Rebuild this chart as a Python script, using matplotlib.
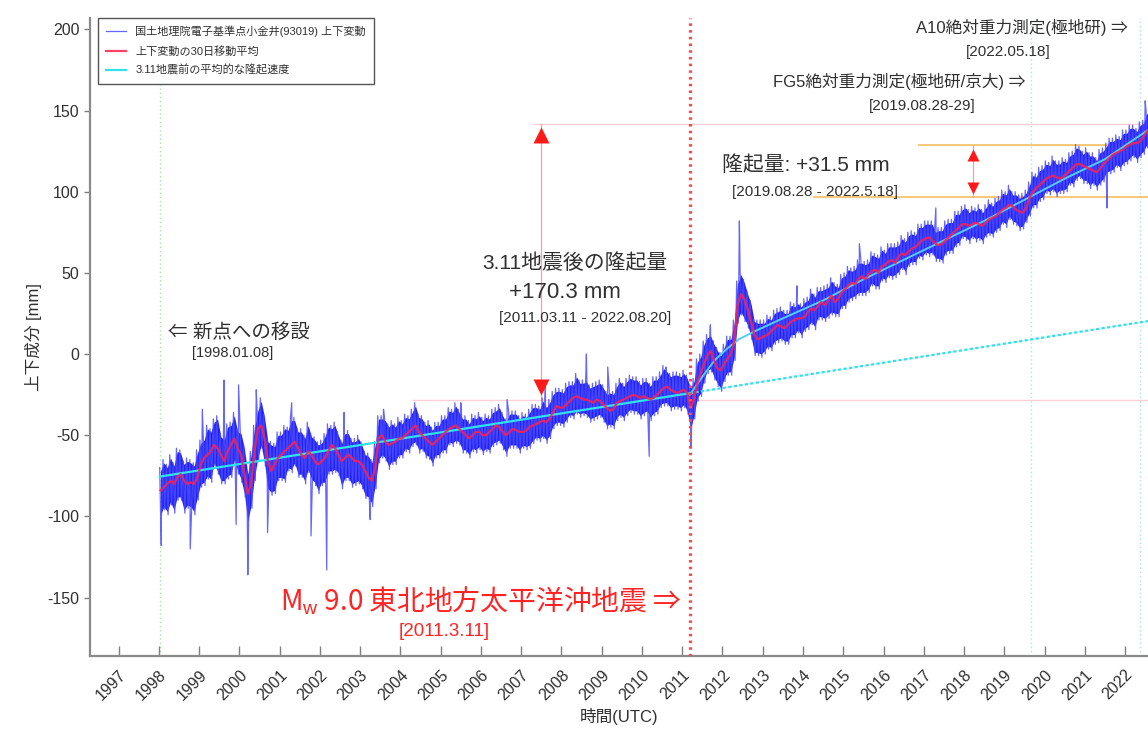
import numpy as np
import matplotlib
matplotlib.use("Agg")
import matplotlib.pyplot as plt

plt.rcParams['font.family'] = ['Liberation Sans', 'Noto Sans CJK JP']
plt.rcParams['mathtext.fontset'] = 'custom'
plt.rcParams['mathtext.rm'] = 'Liberation Sans'
plt.rcParams['axes.unicode_minus'] = False

# 30-day moving average of the vertical component, one value per month (1998-01 .. 2022-08) [mm]
ma = [
    -84, -82, -80, -78, -80, -76, -74, -78, -80, -79, -80, -76,   # 1998
    -68, -64, -62, -60, -56, -58, -62, -66, -60, -56, -52, -58,   # 1999
    -62, -74, -86, -80, -60, -46, -44, -52, -66, -72, -68, -64,   # 2000
    -62, -60, -58, -56, -54, -58, -62, -64, -60, -62, -66, -68,   # 2001
    -66, -64, -60, -56, -58, -62, -66, -64, -62, -64, -66, -66,   # 2002
    -68, -72, -76, -78, -70, -52, -50, -54, -56, -55, -54, -52,   # 2003
    -52, -50, -48, -46, -44, -48, -50, -52, -54, -56, -54, -52,   # 2004
    -50, -48, -46, -45, -44, -46, -48, -50, -52, -50, -48, -48,   # 2005
    -50, -50, -48, -46, -44, -45, -48, -50, -48, -46, -47, -48,   # 2006
    -48, -47, -45, -44, -43, -42, -41, -42, -40, -36, -32, -33,   # 2007
    -33, -31, -29, -27, -26, -27, -28, -28, -29, -30, -28, -29,   # 2008
    -31, -33, -35, -34, -30, -29, -28, -27, -26, -25, -26, -27,   # 2009
    -26, -27, -28, -27, -25, -23, -21, -20, -22, -23, -24, -23,   # 2010
    -22, -24, -33, -28, -18, -12, -6, -1, 2, -4, -9, -10,         # 2011
    -6, -3, 0, 8, 30, 37, 34, 28, 20, 12, 9, 10,                  # 2012
    11, 12, 14, 16, 18, 17, 16, 18, 20, 21, 22, 22,               # 2013
    23, 26, 28, 27, 30, 32, 30, 33, 36, 32, 34, 38,               # 2014
    40, 42, 44, 43, 46, 48, 46, 49, 51, 52, 50, 54,               # 2015
    55, 57, 58, 56, 60, 62, 61, 63, 65, 66, 68, 70,               # 2016
    71, 72, 70, 68, 67, 68, 70, 72, 74, 76, 78, 80,               # 2017
    80, 79, 80, 81, 80, 79, 81, 83, 84, 85, 87, 89,               # 2018
    90, 92, 91, 89, 88, 87, 90, 96, 100, 102, 104, 106,           # 2019
    108, 109, 110, 109, 108, 109, 111, 113, 115, 117, 117, 116,   # 2020
    115, 114, 113, 112, 114, 117, 119, 121, 123, 124, 125, 126,   # 2021
    128, 129, 130, 130, 131, 134, 137, 140,                       # 2022
]

# spread of the daily values above / below the moving average, per month [mm]
band_up = [
    14, 17, 12, 16, 13, 18, 15, 12, 16, 14, 13, 17,
    15, 13, 18, 14, 16, 20, 13, 15, 17, 14, 16, 12,
    15, 18, 14, 20, 16, 13, 17, 15, 14, 18, 13, 16,
    14, 16, 13, 17, 15, 12, 16, 14, 18, 13, 15, 14,
    13, 15, 17, 12, 16, 14, 13, 17, 15, 12, 14, 16,
    14, 12, 15, 13, 16, 14, 12, 15, 13, 14, 11, 13,
    11, 13, 10, 12, 14, 11, 12, 10, 13, 11, 12, 10,
    12, 10, 13, 11, 14, 12, 10, 12, 11, 13, 10, 12,
    11, 13, 10, 12, 11, 14, 12, 10, 13, 11, 12, 10,
    12, 10, 11, 13, 12, 10, 14, 11, 12, 13, 11, 12,
    11, 13, 12, 10, 14, 11, 12, 13, 10, 12, 11, 13,
    12, 10, 13, 11, 12, 14, 10, 12, 13, 11, 12, 10,
    11, 12, 10, 13, 11, 12, 14, 11, 10, 12, 13, 11,
    12, 11, 14, 13, 15, 12, 14, 13, 11, 12, 13, 11,
    12, 14, 11, 13, 15, 14, 12, 11, 13, 10, 12, 11,
    10, 12, 9, 11, 10, 12, 11, 9, 12, 10, 11, 9,
    11, 9, 12, 10, 11, 9, 12, 10, 11, 12, 9, 11,
    10, 12, 9, 11, 12, 10, 11, 9, 12, 10, 11, 12,
    9, 11, 10, 12, 9, 11, 10, 12, 11, 9, 12, 10,
    11, 10, 12, 9, 11, 10, 12, 11, 9, 12, 10, 11,
    12, 10, 11, 9, 12, 10, 11, 12, 9, 11, 10, 12,
    10, 12, 9, 11, 10, 12, 11, 10, 12, 9, 11, 10,
    11, 9, 12, 10, 11, 12, 9, 11, 10, 12, 11, 9,
    12, 10, 11, 9, 12, 10, 11, 12, 10, 11, 9, 12,
    10, 12, 11, 9, 12, 10, 13, 11,
]
band_dn = [
    17, 14, 19, 15, 18, 14, 16, 20, 15, 17, 19, 14,
    14, 17, 15, 19, 13, 16, 18, 14, 17, 20, 15, 16,
    17, 14, 19, 15, 18, 20, 14, 17, 19, 15, 18, 14,
    16, 19, 14, 17, 15, 18, 14, 16, 13, 17, 15, 18,
    15, 17, 14, 18, 15, 13, 17, 14, 16, 18, 15, 14,
    15, 17, 14, 16, 13, 15, 14, 12, 15, 13, 14, 12,
    12, 10, 13, 11, 12, 13, 10, 12, 11, 13, 10, 12,
    11, 13, 10, 12, 11, 10, 13, 11, 12, 10, 13, 11,
    12, 10, 13, 11, 12, 10, 11, 13, 10, 12, 11, 13,
    10, 12, 13, 11, 10, 12, 11, 13, 12, 10, 12, 11,
    12, 11, 10, 13, 11, 12, 10, 11, 13, 11, 12, 10,
    11, 13, 10, 12, 11, 10, 13, 11, 10, 12, 11, 13,
    12, 10, 13, 11, 12, 10, 11, 12, 13, 11, 10, 12,
    11, 13, 15, 12, 11, 14, 12, 11, 13, 12, 11, 13,
    11, 10, 13, 12, 11, 13, 14, 12, 11, 13, 10, 12,
    11, 9, 12, 10, 11, 9, 10, 12, 10, 11, 9, 12,
    9, 11, 10, 12, 9, 11, 10, 11, 12, 9, 11, 10,
    12, 10, 11, 9, 10, 12, 10, 11, 9, 12, 10, 9,
    11, 10, 12, 9, 11, 10, 12, 9, 10, 11, 9, 12,
    10, 12, 9, 11, 10, 12, 9, 10, 12, 10, 11, 9,
    10, 11, 9, 12, 10, 11, 9, 10, 12, 10, 11, 9,
    12, 9, 11, 10, 12, 10, 9, 11, 10, 12, 10, 11,
    9, 11, 10, 12, 9, 10, 11, 9, 12, 10, 9, 11,
    10, 12, 9, 11, 10, 11, 9, 10, 11, 9, 12, 10,
    11, 10, 9, 12, 10, 11, 10, 12,
]

# isolated daily outliers
spike_t = [1998.06, 1998.78, 1999.08, 1999.62, 1999.92, 1999.98, 2000.21, 2000.42,
           2000.70, 2001.30, 2001.78, 2002.17, 2002.60, 2003.25, 2003.58, 2005.50,
           2006.65, 2007.60, 2008.62, 2009.15, 2010.18, 2010.60, 2011.22, 2011.70,
           2012.42, 2013.85, 2015.40, 2017.30, 2019.35, 2021.55, 2022.50]
spike_v = [-118, -120, -34, -16, -105, -19, -136, -22,
           -110, -30, -112, -133, -36, -102, -34, -30,
           -28, -20, 0, -8, -63, -8, -58, 18,
           82, 42, 68, 90, 88, 90, 156]

# mean uplift rate before 3.11 (solid until the quake, extrapolated afterwards)
trend_t = [1998.02, 2011.19, 2022.57]
trend_v = [-75.5, -24.1, 20.3]

# post-seismic trend
post_t = [2011.19, 2011.5, 2011.8, 2012.1, 2012.4, 2012.8, 2013.5, 2014.5,
          2015.5, 2016.5, 2017.5, 2018.5, 2019.5, 2020.5, 2021.5, 2022.57]
post_v = [-25, -14, -4, 3, 9, 14, 22, 33, 46, 58, 70, 82, 95, 108, 120, 138]

years = list(range(1997, 2023))
yticks = [-150, -100, -50, 0, 50, 100, 150, 200]

t_move = 1998.02     # 新点への移設
t_quake = 2011.19    # 2011.03.11
t_fg5 = 2019.66      # 2019.08.28
t_a10 = 2022.38      # 2022.05.18

base_311 = -28.4
uplift_311 = 170.3
base_grav = 97.0
uplift_grav = 31.5

txt = '#303030'
red = '#ff2424'

fig = plt.figure(figsize=(11.48, 7.32), dpi=100)
ax = fig.add_axes([90 / 1148, 76 / 732, 1058 / 1148, 638 / 732])
x0, x1 = 1996.29, 2022.57
ax.set_xlim(x0, x1)
ax.set_ylim(-186, 207)

# daily series: band of the monthly high/low plus a zigzag through them, outliers merged in
ma = np.array(ma, dtype=float)
t = 1998 + (np.arange(len(ma)) + 0.5) / 12
hi = ma + np.array(band_up)
lo = ma - np.array(band_dn)
zt = np.column_stack([t - 1 / 48, t + 1 / 48]).ravel()
zv = np.column_stack([hi, lo]).ravel()
bt = np.concatenate([zt, spike_t])
bv = np.concatenate([zv, spike_v])
order = np.argsort(bt, kind='stable')

ax.fill_between(t, lo + 2, hi - 2, color='#2424f0', lw=0, zorder=3)
l_blue, = ax.plot(bt[order], bv[order], color='#4a4aff', lw=0.9, alpha=0.85, zorder=3,
                  label='国土地理院電子基準点小金井(93019) 上下変動')
l_red, = ax.plot(t, ma, color='#ff2050', lw=1.6, alpha=0.85, zorder=5,
                 label='上下変動の30日移動平均')
l_cyan, = ax.plot(trend_t[:2], trend_v[:2], color='#30e2ee', lw=1.6, zorder=4,
                  label='3.11地震前の平均的な隆起速度')
ax.plot(trend_t[1:], trend_v[1:], color='#30e2ee', lw=1.6, ls=(0, (1.5, 1)), zorder=4)
ax.plot(post_t, post_v, color='#55cdf2', lw=1.4, zorder=4)

# event lines
ax.axvline(t_move, color='#a4e4a4', lw=1, ls=(0, (1, 2)), zorder=1)
ax.axvline(t_fg5, color='#a8e6ea', lw=1, ls=(0, (1, 2)), zorder=1)
ax.axvline(t_a10, color='#a8ecd0', lw=1, ls=(0, (1, 2)), zorder=1)
ax.axvline(t_quake, color='#ff4848', lw=2.3, ls=(0, (0.8, 1.3)), zorder=6)

# uplift since 3.11
top_311 = base_311 + uplift_311
ax.hlines([top_311], 2007.3, x1, color='#ffd0d8', lw=1, zorder=1)
ax.hlines([base_311], 2004.3, x1, color='#ffd0d8', lw=1, zorder=1)
xa = 2007.49
ax.plot([xa, xa], [base_311, top_311], color='#ff9a9a', lw=0.9, zorder=2)
ax.plot(xa, top_311 - 7, marker='^', ms=12, color='#ff1a1a', mec='none', zorder=7)
ax.plot(xa, base_311 + 8, marker='v', ms=12, color='#ff1a1a', mec='none', zorder=7)

# uplift between the two gravity campaigns
top_grav = base_grav + uplift_grav
ax.hlines([top_grav], 2016.86, x1, color='#f6c060', lw=1.2, zorder=1)
ax.hlines([base_grav], 2014.25, x1, color='#f6c060', lw=1.2, zorder=1)
xg = 2018.23
ax.plot([xg, xg], [base_grav, top_grav], color='#ff9a9a', lw=0.9, zorder=2)
ax.plot(xg, top_grav - 6, marker='^', ms=8, color='#ff1a1a', mec='none', zorder=7)
ax.plot(xg, base_grav + 5, marker='v', ms=8, color='#ff1a1a', mec='none', zorder=7)

# annotations
ax.text(2022.07, 201, 'A10絶対重力測定(極地研) ⇒', ha='right', va='center', fontsize=12, color=txt)
ax.text(2019.1, 186, '[2022.05.18]', ha='center', va='center', fontsize=11, color=txt)
ax.text(2019.52, 168, 'FG5絶対重力測定(極地研/京大) ⇒', ha='right', va='center', fontsize=12, color=txt)
ax.text(2016.96, 153, '[2019.08.28-29]', ha='center', va='center', fontsize=11, color=txt)
ax.text(2012.0, 116.5, f'隆起量: +{uplift_grav:.1f} mm', ha='left', va='center', fontsize=15, color=txt)
ax.text(2012.24, 100, '[2019.08.28 - 2022.5.18]', ha='left', va='center', fontsize=11, color=txt)
ax.text(2008.34, 56, '3.11地震後の隆起量', ha='center', va='center', fontsize=15, color=txt)
ax.text(2008.09, 38, f'+{uplift_311:.1f} mm', ha='center', va='center', fontsize=16, color=txt)
ax.text(2008.6, 22, '[2011.03.11 - 2022.08.20]', ha='center', va='center', fontsize=11, color=txt)
ax.text(1998.23, 13.5, '⇐ 新点への移設', ha='left', va='center', fontsize=14, color=txt)
ax.text(1998.82, 0.5, '[1998.01.08]', ha='left', va='center', fontsize=10.5, color=txt)
ax.text(2011.0, -152, r'M$_{\mathrm{w}}$ 9.0 東北地方太平洋沖地震 ⇒', ha='right', va='center',
        fontsize=20, color=red, family='Noto Sans CJK JP')
ax.text(2005.1, -171, '[2011.3.11]', ha='center', va='center', fontsize=13.5, color=red)

# axes styling
ax.set_xticks(years)
ax.set_xticklabels([str(y) for y in years], rotation=45, ha='right', rotation_mode='anchor')
ax.set_yticks(yticks)
ax.tick_params(axis='x', direction='in', length=7, width=1, color='#808080',
               labelcolor=txt, labelsize=11.5, pad=8)
ax.tick_params(axis='y', direction='out', length=4, width=1, color='#808080',
               labelcolor=txt, labelsize=11.5)
for side in ('top', 'right'):
    ax.spines[side].set_visible(False)
for side in ('left', 'bottom'):
    ax.spines[side].set_color('#8a8a8a')
    ax.spines[side].set_linewidth(1.6)
ax.set_ylabel('上下成分 [mm]', fontsize=12, color=txt)
ax.set_xlabel('時間(UTC)', fontsize=12, color=txt)

leg = ax.legend(handles=[l_blue, l_red, l_cyan], loc='upper left', bbox_to_anchor=(0.008, 1.0),
                borderaxespad=0, fontsize=8, frameon=True, fancybox=False, framealpha=1,
                edgecolor='#555555', handlelength=1.8, labelspacing=0.75, borderpad=0.7)
leg.get_frame().set_linewidth(1.0)
for tx in leg.get_texts():
    tx.set_color(txt)

fig.savefig('out.png', dpi=100)
